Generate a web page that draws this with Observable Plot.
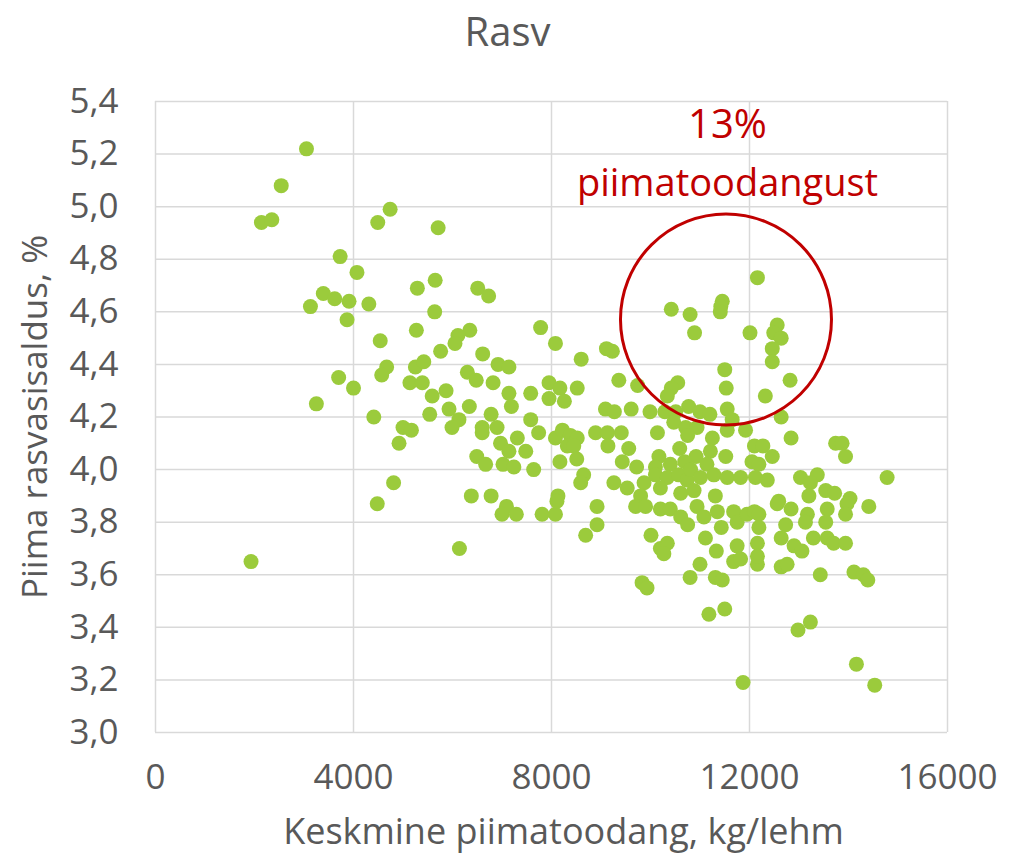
<!DOCTYPE html>
<html>
<head>
<meta charset="utf-8">
<script src="https://cdn.jsdelivr.net/npm/d3@7"></script>
<script src="https://cdn.jsdelivr.net/npm/@observablehq/plot@0.6"></script>
<style>
  html, body { margin: 0; padding: 0; background: #fff; }
  #chart { width: 1010px; height: 855px; }
</style>
</head>
<body>
<div id="chart"></div>
<script>
// ---- Data ----
const title = "Rasv";
const xLabel = "Keskmine piimatoodang, kg/lehm";
const yLabel = "Piima rasvasisaldus, %";
const xTicks = [0, 4000, 8000, 12000, 16000];
const yTicks = [3.0, 3.2, 3.4, 3.6, 3.8, 4.0, 4.2, 4.4, 4.6, 4.8, 5.0, 5.2, 5.4];
const annotationLines = ["13%", "piimatoodangust"];
const annotationX = 11556;
const annotationY = [5.309, 5.088];
const circleCenter = [11525, 4.571];

// average milk yield per cow (kg)
const milkYield = [
  3050,2540,2140,2350,4740,4490,3730,4070,5290,3390,3620,3910,4310,3130,3870,5270,4540,4670,4570,5250,
  5140,3700,4000,3250,4410,5000,5170,4920,4810,4480,1930,5710,5650,6510,6730,5640,
  6350,6110,6050,5760,6610,7780,8080,8600,5420,5390,6920,7140,6300,6480,6820,5590,5870,7140,7190,7580,
  7950,8170,7950,8260,8520,5540,5930,6340,6130,5990,6780,6600,6600,6900,7580,7740,7310,6970,7140,7480,
  6490,6670,7020,7240,7640,8080,8220,8380,8520,8320,8450,8170,8510,8650,8590,8890,6380,6780,8130,
  7090,7000,7290,7810,8080,8110,8920,8920,8690,6140,
  12160,10420,10800,11450,11420,11410,10890,12010,9110,9230,11500,11530,9360,9740,10550,10420,10340,
  9090,9270,9610,9990,10290,10510,10770,11000,11200,11550,11650,10470,10710,10940,11550,11920,9130,9410,
  10140,10750,9140,9560,11250,10590,11210,10170,10920,11520,9430,9720,10100,10400,10690,11140,12100,12050,
  9260,9530,9870,10100,10340,10200,10570,10740,10810,11010,11280,11550,11820,9800,10610,10880,11310,
  9700,9900,10200,10400,10610,10750,10940,11080,11110,11350,11430,11680,11750,11950,12100,10010,10200,
  10340,10270,11330,11750,11680,11820,12160,12160,11000,10800,11310,11450,9830,9930,11180,11500,11870,
  12560,12490,12640,12460,12460,12820,12320,12640,12840,12270,12460,12190,12120,13740,13870,13940,13030,
  13370,13230,13540,13720,13200,12590,14030,14780,12360,
  12560,12840,13170,13570,13970,13940,14410,12190,12730,13130,13540,12190,12640,12900,13060,13290,13570,
  13700,13940,12160,12640,12760,13430,14110,14300,14390,12980,13230,14160,14530
];

// milk fat content (%)
const fatPct = [
  5.22,5.08,4.94,4.95,4.99,4.94,4.81,4.75,4.69,4.67,4.65,4.64,4.63,4.62,4.57,4.53,4.49,4.39,4.36,4.39,
  4.33,4.35,4.31,4.25,4.20,4.16,4.15,4.10,3.95,3.87,3.65,4.92,4.72,4.69,4.66,4.60,
  4.53,4.51,4.48,4.45,4.44,4.54,4.48,4.42,4.41,4.33,4.40,4.39,4.37,4.34,4.33,4.28,4.30,4.29,4.24,4.29,
  4.33,4.31,4.27,4.26,4.31,4.21,4.23,4.24,4.19,4.16,4.21,4.16,4.14,4.16,4.19,4.14,4.12,4.10,4.07,4.07,
  4.05,4.02,4.02,4.01,4.00,4.12,4.15,4.13,4.12,4.09,4.09,4.03,4.04,3.98,3.95,4.14,3.90,3.90,3.90,
  3.86,3.83,3.83,3.83,3.83,3.88,3.86,3.79,3.75,3.70,
  4.73,4.61,4.59,4.64,4.62,4.60,4.52,4.52,4.46,4.45,4.38,4.31,4.34,4.32,4.33,4.31,4.28,
  4.23,4.22,4.23,4.22,4.22,4.22,4.24,4.22,4.21,4.23,4.19,4.18,4.16,4.16,4.15,4.15,4.14,4.14,
  4.14,4.13,4.09,4.08,4.12,4.08,4.07,4.05,4.05,4.05,4.03,4.01,4.01,4.02,4.03,4.02,4.09,4.03,
  3.95,3.93,3.95,3.98,3.97,3.93,3.98,3.96,4.00,3.97,3.98,3.97,3.97,3.90,3.91,3.92,3.90,
  3.86,3.86,3.85,3.85,3.82,3.79,3.86,3.82,3.74,3.84,3.78,3.84,3.80,3.83,3.84,3.75,3.70,
  3.72,3.68,3.69,3.71,3.65,3.66,3.72,3.64,3.64,3.59,3.59,3.58,3.57,3.55,3.45,3.47,3.19,
  4.55,4.52,4.50,4.46,4.41,4.34,4.28,4.20,4.12,4.09,4.05,4.02,3.97,4.10,4.10,4.05,3.97,
  3.98,3.95,3.92,3.91,3.90,3.88,3.89,3.97,3.96,
  3.87,3.85,3.83,3.85,3.87,3.83,3.86,3.83,3.79,3.80,3.80,3.78,3.74,3.71,3.69,3.74,3.74,
  3.72,3.72,3.67,3.63,3.64,3.60,3.61,3.60,3.58,3.39,3.42,3.26,3.18
];

// ---- Build ----
const farms = milkYield.map((m, i) => ({milk: m, fat: fatPct[i]}));
const FONT = "'Open Sans', 'DejaVu Sans', sans-serif";
const GREY = "#595959";
const RED = "#C00000";
const GREEN = "#9BCB3C";
const fmtComma = d => d.toFixed(1).replace(".", ",");

const chart = Plot.plot({
  width: 1010,
  height: 855,
  marginTop: 101,
  marginLeft: 155,
  marginRight: 63,
  marginBottom: 123,
  style: {fontFamily: FONT, fontSize: "34px", color: GREY, background: "#fff", overflow: "visible"},
  x: {domain: [0, 16000], label: null},
  y: {domain: [3.0, 5.4], label: null},
  marks: [
    Plot.gridX(xTicks, {stroke: "#D9D9D9", strokeOpacity: 1, strokeWidth: 1.5}),
    Plot.gridY(yTicks, {stroke: "#D9D9D9", strokeOpacity: 1, strokeWidth: 1.5}),
    Plot.axisX(xTicks, {tickSize: 0, tickPadding: 32, tickFormat: d => String(d), fontSize: 35, letterSpacing: 2.5, label: null, fill: GREY}),
    Plot.axisY(yTicks, {tickSize: 0, tickPadding: 37, tickFormat: fmtComma, fontSize: 35, letterSpacing: 1.5, label: null, fill: GREY}),
    Plot.dot(farms, {x: "milk", y: "fat", r: 7.5, fill: GREEN, stroke: "none"}),
    Plot.dot([circleCenter], {x: d => d[0], y: d => d[1], r: 105.5, fill: "none", stroke: RED, strokeWidth: 3}),
    Plot.text([annotationLines[0]], {x: () => annotationX, y: () => annotationY[0], text: d => d, fill: RED, fontSize: 40, letterSpacing: 1.5}),
    Plot.text([annotationLines[1]], {x: () => annotationX, y: () => annotationY[1], text: d => d, fill: RED, fontSize: 38, letterSpacing: 1.3}),
    Plot.text([title], {frameAnchor: "top", dx: -44, dy: -68, lineAnchor: "middle", text: d => d, fill: GREY, fontSize: 40, letterSpacing: 2.5}),
    Plot.text([xLabel], {frameAnchor: "bottom", dx: 12, dy: 100, lineAnchor: "middle", text: d => d, fill: GREY, fontSize: 36, letterSpacing: 2.5}),
    Plot.text([yLabel], {frameAnchor: "left", dx: -120, rotate: -90, textAnchor: "middle", lineAnchor: "middle", text: d => d, fill: GREY, fontSize: 35, letterSpacing: 2})
  ]
});
document.getElementById("chart").appendChild(chart);
</script>
</body>
</html>
